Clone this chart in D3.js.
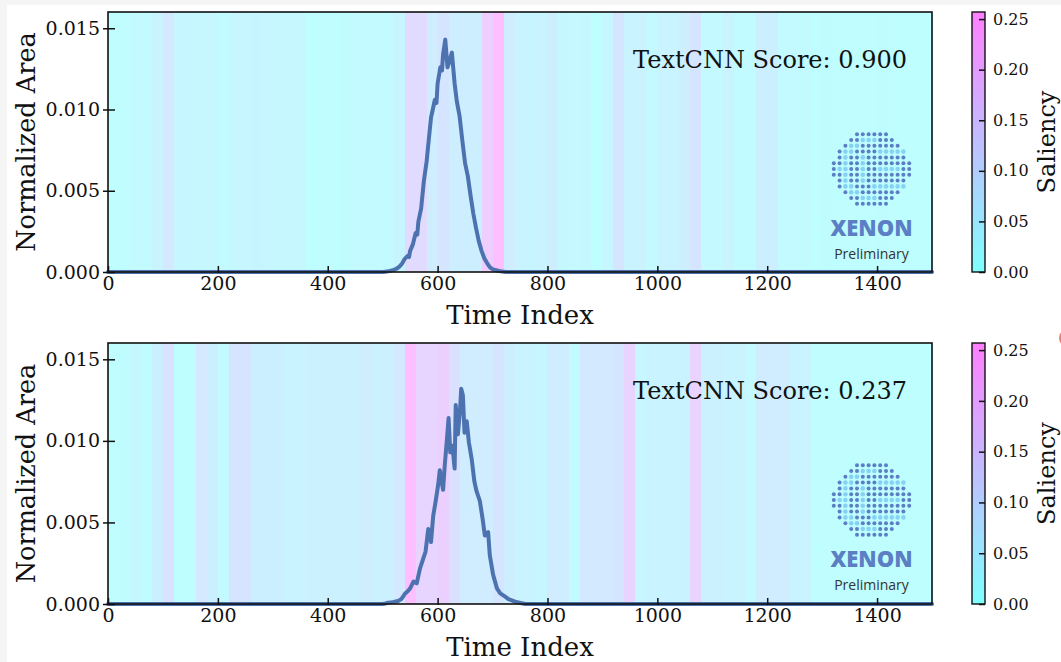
<!DOCTYPE html>
<html>
<head>
<meta charset="utf-8">
<script src="https://cdn.jsdelivr.net/npm/d3@7"></script>
<style>
	html, body { margin: 0; padding: 0; background: #f5f5f5; }
	svg { display: block; }
</style>
</head>
<body>
<svg id="chart" width="1061" height="662"></svg>
<script>

// saliency per 20-step bin (75 bins over 0..1500)
var saliencyTop = [
	0.005, 0.008, 0.02, 0.02, 0.045, 0.09, 0.035, 0.035, 0.03, 0.035,
	0.015, 0.035, 0.035, 0.04, 0.035, 0.03, 0.035, 0.03, 0.005, 0.008,
	0.005, 0.01, 0.02, 0.025, 0.02, 0.02, 0.04, 0.14, 0.14, 0.07,
	0.1, 0.065, 0.065, 0.06, 0.19, 0.25, 0.07, 0.045, 0.04, 0.045,
	0.065, 0.03, 0.025, 0.03, 0.005, 0.035, 0.1, 0.045, 0.05, 0.025,
	0.045, 0.045, 0.065, 0.1, 0.025, 0.025, 0.045, 0.015, 0.015, 0.06,
	0.06, 0.02, 0.02, 0.015, 0.005, 0.01, 0.005, 0.008, 0.005, 0.005,
	0.01, 0.005, 0.005, 0.005, 0.005
];

var saliencyBottom = [
	0.005, 0.01, 0.03, 0.01, 0.06, 0.11, 0.005, 0.005, 0.09, 0.06,
	0.02, 0.1, 0.1, 0.06, 0.06, 0.06, 0.045, 0.045, 0.055, 0.055,
	0.055, 0.055, 0.055, 0.075, 0.055, 0.055, 0.09, 0.25, 0.165, 0.165,
	0.18, 0.12, 0.075, 0.075, 0.075, 0.1, 0.065, 0.045, 0.045, 0.035,
	0.075, 0.075, 0.015, 0.085, 0.085, 0.085, 0.1, 0.17, 0.035, 0.045,
	0.045, 0.045, 0.045, 0.17, 0.055, 0.055, 0.045, 0.045, 0.025, 0.07,
	0.07, 0.07, 0.045, 0.045, 0.005, 0.008, 0.005, 0.005, 0.008, 0.005,
	0.005, 0.005, 0.005, 0.005, 0.005
];

// [time index, normalized area]
var areaTop = [
	[0, 0], [500, 0], [505, 0.00002], [510, 0.00004], [515, 0.00008], [520, 0.00013],
	[525, 0.0002], [530, 0.00032], [535, 0.0005], [540, 0.0008], [545, 0.00098],
	[548, 0.00092], [550, 0.0013], [555, 0.0017], [560, 0.0024], [563, 0.0023],
	[565, 0.0031], [570, 0.0039], [575, 0.0056], [580, 0.0068], [585, 0.0085],
	[588, 0.0095], [590, 0.0098], [595, 0.0106], [598, 0.0104], [600, 0.0116],
	[605, 0.0126], [608, 0.0124], [610, 0.0134], [614, 0.0143], [618, 0.0126],
	[622, 0.0130], [626, 0.0135], [631, 0.0116], [635, 0.0105], [640, 0.0096],
	[645, 0.0081], [650, 0.0067], [655, 0.0059], [660, 0.0047], [665, 0.0036],
	[670, 0.0027], [675, 0.0019], [680, 0.0013], [685, 0.00085], [690, 0.00055],
	[695, 0.0003], [700, 0.00018], [705, 0.00012], [710, 0.00008], [715, 0.00004],
	[720, 0.00002], [725, 0], [1500, 0]
];

var areaBottom = [
	[0, 0], [500, 0], [505, 0.00003], [510, 0.00008], [515, 0.0001], [520, 0.00012],
	[528, 0.00018], [534, 0.0003], [541, 0.00065], [546, 0.0008], [550, 0.00096],
	[556, 0.00137], [562, 0.00127], [568, 0.00218], [574, 0.0028], [578, 0.0032],
	[583, 0.0046], [588, 0.0038], [592, 0.0054], [596, 0.0062], [601, 0.0073],
	[604, 0.0082], [610, 0.0070], [613, 0.0085], [617, 0.0101], [620, 0.0114],
	[623, 0.0093], [627, 0.0097], [631, 0.0083], [633, 0.0122], [637, 0.0104],
	[641, 0.0120], [643, 0.0132], [646, 0.0128], [649, 0.0105], [653, 0.0112],
	[657, 0.0099], [662, 0.0089], [667, 0.0075], [671, 0.0069], [677, 0.0063],
	[682, 0.0052], [686, 0.0042], [692, 0.0044], [695, 0.0030], [701, 0.0018],
	[708, 0.00096], [714, 0.00065], [723, 0.00045], [729, 0.0003], [741, 0.00014],
	[753, 0.00005], [760, 0], [1500, 0]
];

var scores = [0.900, 0.237];
var xTicks = [0, 200, 400, 600, 800, 1000, 1200, 1400];
var yTicks = [0, 0.005, 0.010, 0.015];
var cbTicks = [0, 0.05, 0.10, 0.15, 0.20, 0.25];

var BIN = 20;
var SAL_MAX = 0.257;
var SERIF = "'DejaVu Serif', serif";
var SANS = "'Open Sans', 'Noto Sans', sans-serif";

var svg = d3.select('#chart');

// white sheet, gray border strip like the screenshot
svg.append('rect').attr('x', 7).attr('y', 5).attr('width', 1054).attr('height', 657).style('fill', '#fff');
svg.append('circle').attr('cx', 1068).attr('cy', 338).attr('r', 9).style('fill', '#e8837a');

var cool = d3.scaleSequential(d3.interpolateRgb('#00ffff', '#ff00ff')).domain([0, SAL_MAX]);
var faded = function(v) { return d3.interpolateRgb('#ffffff', cool(v))(0.26); };

var x = d3.scaleLinear().domain([0, 1500]).range([108, 932]);

var defs = svg.append('defs');
var grad = defs.append('linearGradient').attr('id', 'cbgrad').attr('x1', 0).attr('y1', 1).attr('x2', 0).attr('y2', 0);
d3.range(0, 1.0001, 0.1).forEach(function(t) {
	grad.append('stop').attr('offset', t).attr('stop-color', cool(t * SAL_MAX));
});

function logo(g, cx, cy) {
	var step = 5.8;
	for (var r = -6; r <= 6; r++) {
		for (var c = -6.5; c <= 6.5; c++) {
			var d = Math.sqrt(r * r + c * c);
			if (d > 6.6)
				continue;
			var light = false;
			if (r === -3 && c >= 1.5 && c <= 5.5) light = true;
			if (r === 3 && c >= 0.5 && c <= 5.5) light = true;
			if (r === 0 && c >= 1.5 && c <= 4.5) light = true;
			if (c < 1 && Math.abs(d - 5) < 0.55) light = true;
			if (c === -1.5 && Math.abs(r) <= 2) light = true;
			g.append('circle')
				.attr('cx', cx + c * step)
				.attr('cy', cy + r * step)
				.attr('r', light ? 2.3 : 2)
				.style('fill', light ? '#86d2f2' : '#5b7ec4');
		}
	}
	g.append('text').attr('x', cx).attr('y', cy + 67).attr('text-anchor', 'middle')
		.style('font-family', SANS).style('font-weight', 800).style('font-size', '22px')
		.style('fill', '#5b7ec4').text('XENON');
	g.append('text').attr('x', cx).attr('y', cy + 90).attr('text-anchor', 'middle')
		.style('font-family', SANS).style('font-size', '14px')
		.style('fill', '#333').text('Preliminary');
}

function panel(top, bottom, saliency, area, score) {

	var y = d3.scaleLinear().domain([0, 0.016]).range([bottom, top]);
	var g = svg.append('g');

	// saliency bands
	g.selectAll('rect.band').data(saliency).enter().append('rect')
		.attr('class', 'band')
		.attr('x', function(d, i) { return x(i * BIN); })
		.attr('width', function(d, i) { return x((i + 1) * BIN) - x(i * BIN) + 0.5; })
		.attr('y', top)
		.attr('height', bottom - top)
		.attr('shape-rendering', 'crispEdges')
		.style('fill', function(d) { return faded(d); });

	var line = d3.line().x(function(d) { return x(d[0]); }).y(function(d) { return y(d[1]); });
	g.append('path').datum(area).attr('d', line)
		.style('fill', 'none').style('stroke', '#4c72b0').style('stroke-width', 4)
		.style('stroke-linejoin', 'round').style('stroke-linecap', 'round');

	logo(g, 871.5, top + 157);

	g.append('text').attr('x', 907).attr('y', top + 56).attr('text-anchor', 'end')
		.style('font-family', SERIF).style('font-size', '24px').style('fill', '#111')
		.text('TextCNN Score: ' + score.toFixed(3));

	g.append('rect').attr('x', 108).attr('y', top).attr('width', 824).attr('height', bottom - top)
		.style('fill', 'none').style('stroke', '#111').style('stroke-width', 1.6);

	// axes
	var ya = g.append('g').attr('transform', 'translate(108,0)')
		.call(d3.axisLeft(y).tickValues(yTicks).tickFormat(d3.format('.3f')).tickSizeInner(-7).tickSizeOuter(0).tickPadding(8));
	ya.selectAll('.tick line').attr('x1', -5).attr('x2', 7);
	ya.select('.domain').remove();

	var xa = g.append('g').attr('transform', 'translate(0,' + bottom + ')')
		.call(d3.axisBottom(x).tickValues(xTicks).tickFormat(d3.format('d')).tickSizeInner(-6).tickSizeOuter(0).tickPadding(4));
	xa.selectAll('.tick line').attr('y1', 1).attr('y2', -6);
	xa.selectAll('.tick text').attr('y', 4).attr('dy', '0.71em');
	xa.select('.domain').remove();

	g.selectAll('.tick line').style('stroke', '#111').style('stroke-width', 1.5);
	g.selectAll('.tick text').style('font-family', SERIF).style('font-size', '19px').style('fill', '#111');

	g.append('text').attr('transform', 'translate(35,' + ((top + bottom) / 2) + ') rotate(-90)')
		.attr('text-anchor', 'middle')
		.style('font-family', SERIF).style('font-size', '25.5px').style('fill', '#111')
		.text('Normalized Area');

	g.append('text').attr('x', 520).attr('y', bottom + 52).attr('text-anchor', 'middle')
		.style('font-family', SERIF).style('font-size', '26px').style('fill', '#111')
		.text('Time Index');

	// colorbar
	var cy = d3.scaleLinear().domain([0, SAL_MAX]).range([bottom, top]);
	var cb = svg.append('g');
	cb.append('rect').attr('x', 972).attr('y', top).attr('width', 13).attr('height', bottom - top)
		.style('fill', 'url(#cbgrad)').style('fill-opacity', 0.5);
	var ca = cb.append('g').attr('transform', 'translate(985,0)')
		.call(d3.axisRight(cy).tickValues(cbTicks).tickFormat(d3.format('.2f')).tickSizeInner(-6).tickSizeOuter(0).tickPadding(8));
	ca.select('.domain').remove();
	ca.selectAll('.tick line').style('stroke', '#111').style('stroke-width', 1.5);
	ca.selectAll('.tick text').style('font-family', SERIF).style('font-size', '16px').style('fill', '#111');
	cb.append('rect').attr('x', 972).attr('y', top).attr('width', 13).attr('height', bottom - top)
		.style('fill', 'none').style('stroke', '#111').style('stroke-width', 1.4);
	cb.append('text').attr('transform', 'translate(1055,' + ((top + bottom) / 2) + ') rotate(-90)')
		.attr('text-anchor', 'middle')
		.style('font-family', SERIF).style('font-size', '24px').style('fill', '#111')
		.text('Saliency');
}

panel(12, 272, saliencyTop, areaTop, scores[0]);
panel(343, 604, saliencyBottom, areaBottom, scores[1]);

</script>
</body>
</html>
